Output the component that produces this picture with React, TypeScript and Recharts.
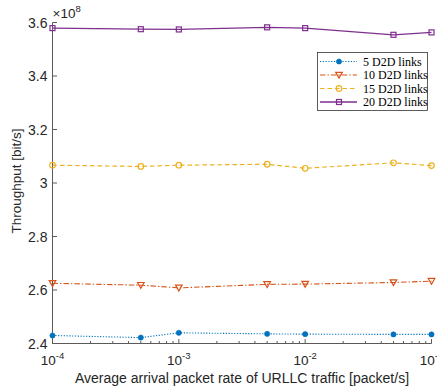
import React from 'react';
import { LineChart, Line, XAxis, YAxis, Legend } from 'recharts';

// Data (throughput in units of 1e8 bit/s)
const arrivalRates = [1e-4, 5e-4, 1e-3, 5e-3, 1e-2, 5e-2, 1e-1];
const links5 = [2.43, 2.422, 2.44, 2.436, 2.435, 2.434, 2.434];
const links10 = [2.625, 2.618, 2.608, 2.621, 2.622, 2.628, 2.633];
const links15 = [3.0665, 3.062, 3.0665, 3.07, 3.055, 3.0755, 3.065];
const links20 = [3.579, 3.575, 3.574, 3.582, 3.579, 3.554, 3.563];
const seriesNames = ['5 D2D links', '10 D2D links', '15 D2D links', '20 D2D links'];
const yTicks = [2.4, 2.6, 2.8, 3.0, 3.2, 3.4, 3.6];
const xMajorExponents = [-4, -3, -2, -1];
const xMinorMultipliers = [2, 3, 4, 5, 6, 7, 8, 9];

const data = arrivalRates.map((x, i) => ({
  x,
  s5: links5[i],
  s10: links10[i],
  s15: links15[i],
  s20: links20[i],
}));

const xTicks: number[] = [];
xMajorExponents.forEach((e, i) => {
  xTicks.push(Number(Math.pow(10, e).toPrecision(6)));
  if (i < xMajorExponents.length - 1) {
    xMinorMultipliers.forEach((m) => xTicks.push(Number((m * Math.pow(10, e)).toPrecision(6))));
  }
});

const isMajor = (v: number) => Math.abs(Math.log10(v) - Math.round(Math.log10(v))) < 1e-6;

const AXIS = '#5a5a5a';
const TEXT = '#262626';
const SANS = '"Liberation Sans", Arial, Helvetica, sans-serif';
const SERIF = '"Liberation Serif", "Times New Roman", serif';

const BLUE = '#0072BD';
const ORANGE = '#D95319';
const YELLOW = '#EDB120';
const PURPLE = '#7E2F8E';

type MarkerKind = 'filledCircle' | 'triangleDown' | 'circle' | 'square';

const drawMarker = (kind: MarkerKind, cx: number, cy: number, color: string, key?: any) => {
  switch (kind) {
    case 'filledCircle':
      return <circle key={key} cx={cx} cy={cy} r={2.6} fill={color} stroke={color} strokeWidth={0.6} />;
    case 'triangleDown':
      return (
        <path
          key={key}
          d={`M${cx - 3.3},${cy - 2.7} L${cx + 3.3},${cy - 2.7} L${cx},${cy + 3.1} Z`}
          fill="none"
          stroke={color}
          strokeWidth={1.2}
        />
      );
    case 'circle':
      return <circle key={key} cx={cx} cy={cy} r={2.8} fill="none" stroke={color} strokeWidth={1.2} />;
    default:
      return (
        <rect key={key} x={cx - 2.5} y={cy - 2.5} width={5} height={5} fill="none" stroke={color} strokeWidth={1.2} />
      );
  }
};

const series = [
  { key: 's5', name: seriesNames[0], color: BLUE, dash: '1.2 1.6', width: 1.1, marker: 'filledCircle' as MarkerKind },
  { key: 's10', name: seriesNames[1], color: ORANGE, dash: '5.5 2 1.4 2', width: 1.1, marker: 'triangleDown' as MarkerKind },
  { key: 's15', name: seriesNames[2], color: YELLOW, dash: '4.5 3', width: 1.2, marker: 'circle' as MarkerKind },
  { key: 's20', name: seriesNames[3], color: PURPLE, dash: undefined, width: 1.3, marker: 'square' as MarkerKind },
];

const BottomTick = (props: any) => {
  const { x, y, payload } = props;
  const v = payload.value;
  const major = isMajor(v);
  const e = Math.round(Math.log10(v));
  return (
    <g>
      <line x1={x} y1={y} x2={x} y2={y - (major ? 4.5 : 2.5)} stroke={AXIS} strokeWidth={1} />
      {major && (
        <text x={x} y={y + 21} textAnchor="middle" fontSize={13.5} fill={TEXT} fontFamily={SANS}>
          <tspan>10</tspan>
          <tspan dy={-5.5} fontSize={9.5}>{`${e}`}</tspan>
        </text>
      )}
    </g>
  );
};

const TopTick = (props: any) => {
  const { x, y, payload } = props;
  const major = isMajor(payload.value);
  return <line x1={x} y1={y} x2={x} y2={y + (major ? 4.5 : 2.5)} stroke={AXIS} strokeWidth={1} />;
};

const fmtY = (v: number) => String(Math.round(v * 10) / 10);

const LeftTick = (props: any) => {
  const { x, y, payload } = props;
  return (
    <g>
      <line x1={x} y1={y} x2={x + 4.5} y2={y} stroke={AXIS} strokeWidth={1} />
      <text x={x - 5} y={y} dy="0.36em" textAnchor="end" fontSize={14} fill={TEXT} fontFamily={SANS}>
        {fmtY(payload.value)}
      </text>
    </g>
  );
};

const RightTick = (props: any) => {
  const { x, y } = props;
  return <line x1={x} y1={y} x2={x - 4.5} y2={y} stroke={AXIS} strokeWidth={1} />;
};

const YLabel = (props: any) => {
  const vb = props.viewBox || { x: 0, y: 22.5, width: 52.5, height: 320.5 };
  const cx = 21;
  const cy = vb.y + vb.height / 2 - 2;
  return (
    <g>
      <text
        x={cx}
        y={cy}
        transform={`rotate(-90, ${cx}, ${cy})`}
        textAnchor="middle"
        fontSize={13.5}
        fill={TEXT}
        fontFamily={SANS}
      >
        Throughput [bit/s]
      </text>
      <text x={vb.x + vb.width} y={vb.y - 5} fontSize={13.5} fill={TEXT} fontFamily={SANS}>
        <tspan>×10</tspan>
        <tspan dy={-5.5} fontSize={9.5}>8</tspan>
      </text>
    </g>
  );
};

const XLabel = (props: any) => {
  const vb = props.viewBox || { x: 52.5, y: 343.5, width: 379, height: 43.5 };
  return (
    <text x={vb.x + vb.width / 2} y={383} textAnchor="middle" fontSize={14} fill={TEXT} fontFamily={SANS}>
      Average arrival packet rate of URLLC traffic [packet/s]
    </text>
  );
};

const LegendBox = () => (
  <svg width={112} height={60} style={{ display: 'block' }}>
    <rect x={0.5} y={0.5} width={110} height={58} fill="#fff" stroke="#333" strokeWidth={0.8} />
    {series.map((s, i) => {
      const cy = 9.5 + i * 13.5;
      return (
        <g key={s.key}>
          <line x1={3} y1={cy} x2={40} y2={cy} stroke={s.color} strokeWidth={s.width} strokeDasharray={s.dash} />
          {drawMarker(s.marker, 22, cy, s.color)}
          <text x={46} y={cy + 4} fontSize={12} fill="#000" fontFamily={SERIF}>
            {s.name}
          </text>
        </g>
      );
    })}
  </svg>
);

export default function App() {
  return (
    <div style={{ position: 'fixed', left: 0, top: 0, width: 437, height: 387, background: '#fff' }}>
      <LineChart width={437} height={387} data={data} margin={{ top: 22.5, right: 5.5, bottom: 0, left: 0 }}>
        <XAxis
          xAxisId="b"
          dataKey="x"
          type="number"
          scale="log"
          domain={[1e-4, 1e-1]}
          ticks={xTicks}
          interval={0}
          height={43.5}
          tickSize={0}
          tickMargin={0}
          tick={<BottomTick />}
          axisLine={{ stroke: AXIS, strokeWidth: 1 }}
          label={{ content: <XLabel /> }}
        />
        <XAxis
          xAxisId="t"
          dataKey="x"
          type="number"
          scale="log"
          orientation="top"
          domain={[1e-4, 1e-1]}
          allowDataOverflow
          ticks={xTicks}
          interval={0}
          height={0}
          tickSize={0}
          tickMargin={0}
          tick={<TopTick />}
          axisLine={{ stroke: AXIS, strokeWidth: 1 }}
        />
        <YAxis
          yAxisId="l"
          type="number"
          domain={[2.4, 3.6]}
          ticks={yTicks}
          interval={0}
          width={52.5}
          tickSize={0}
          tickMargin={0}
          tick={<LeftTick />}
          axisLine={{ stroke: AXIS, strokeWidth: 1 }}
          label={{ content: <YLabel /> }}
        />
        <YAxis
          yAxisId="r"
          type="number"
          orientation="right"
          domain={[2.4, 3.6]}
          allowDataOverflow
          ticks={yTicks}
          interval={0}
          width={0}
          tickSize={0}
          tickMargin={0}
          tick={<RightTick />}
          axisLine={{ stroke: AXIS, strokeWidth: 1 }}
        />
        {series.map((s) => (
          <Line
            key={s.key}
            xAxisId="b"
            yAxisId="l"
            type="linear"
            dataKey={s.key}
            name={s.name}
            stroke={s.color}
            strokeWidth={s.width}
            strokeDasharray={s.dash}
            isAnimationActive={false}
            activeDot={false}
            dot={(p: any) => drawMarker(s.marker, p.cx, p.cy, s.color, `${s.key}-${p.index}`)}
          />
        ))}
        <Legend
          verticalAlign="middle"
          align="center"
          layout="horizontal"
          content={<LegendBox />}
          wrapperStyle={{ position: 'absolute', left: 317, top: 52, width: 112, height: 60 }}
        />
      </LineChart>
    </div>
  );
}
